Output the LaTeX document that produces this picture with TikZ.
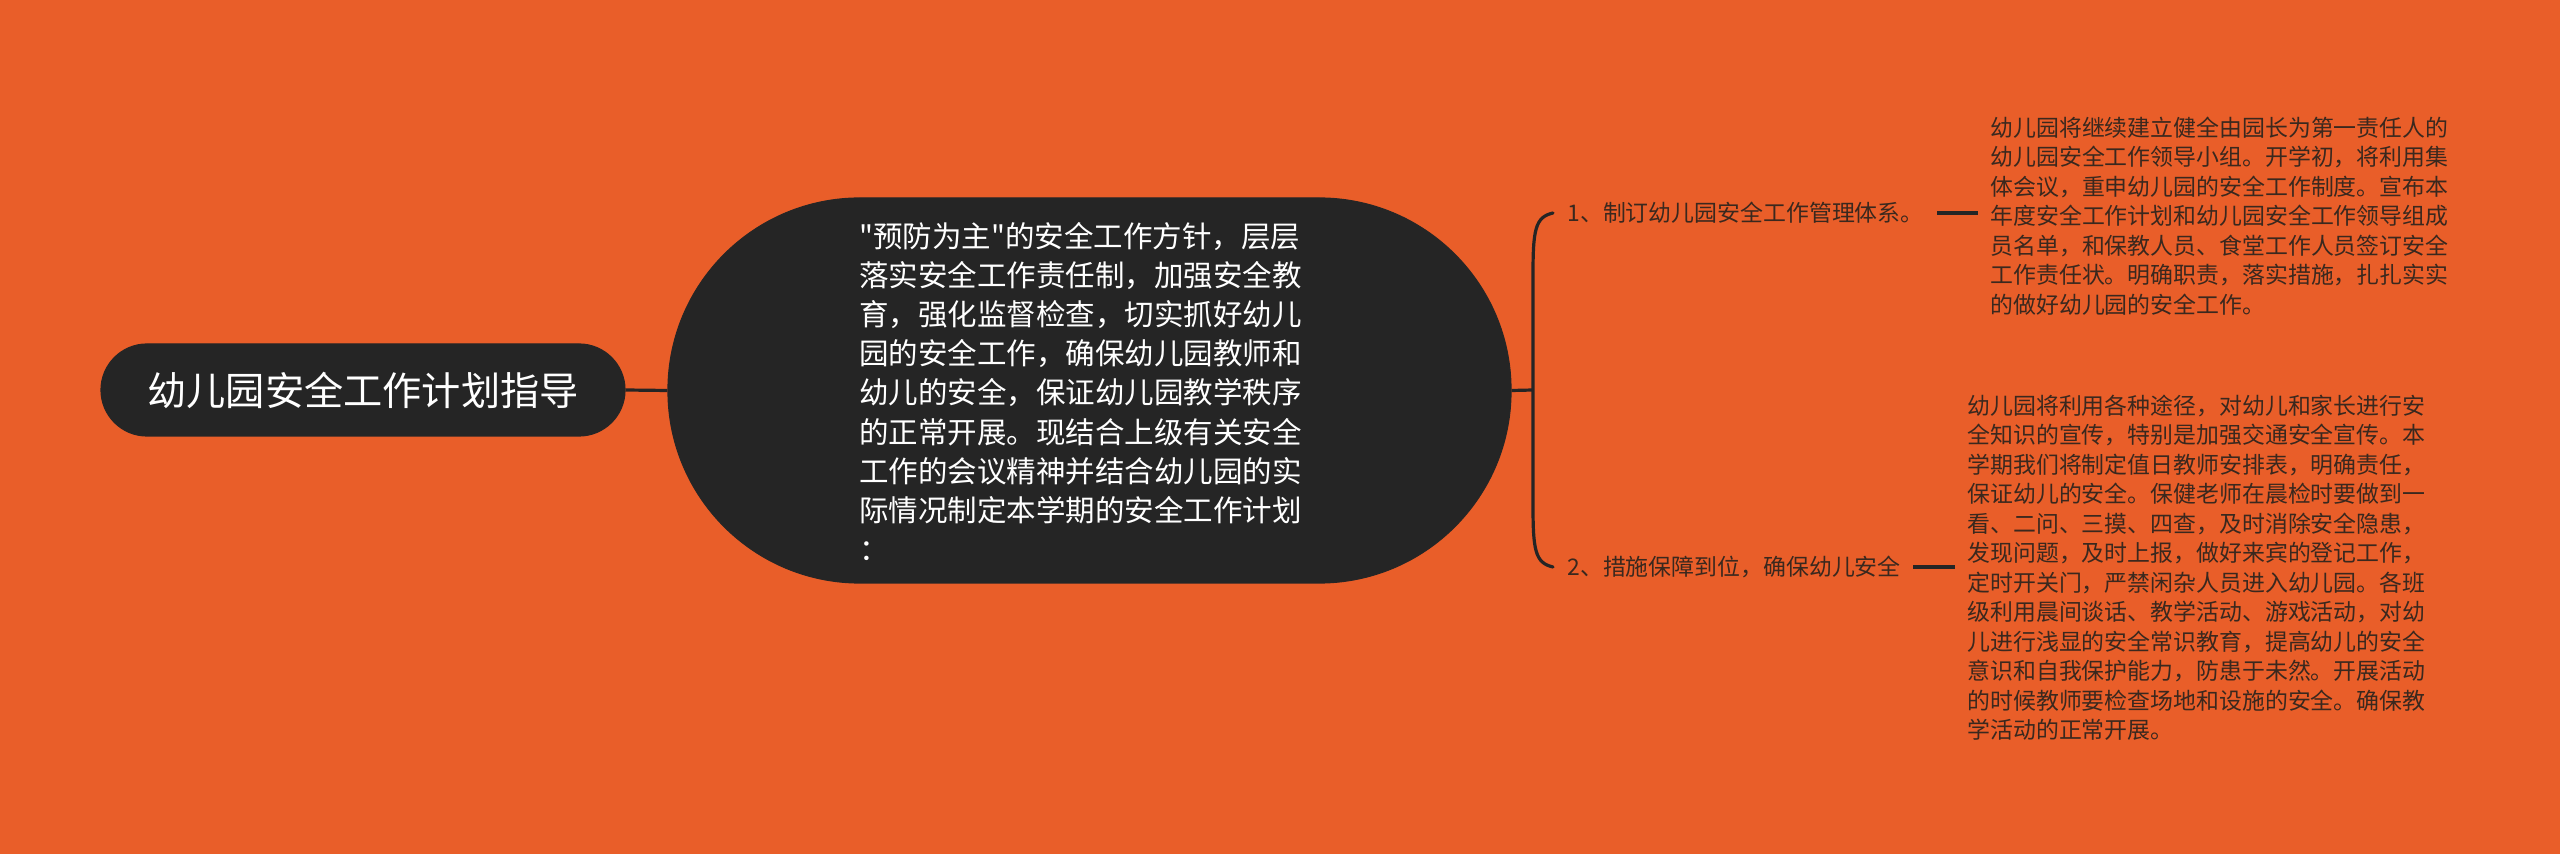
\documentclass[tikz,border=0pt]{standalone}
\usepackage{fontspec}
\newfontfamily\cjk{Noto Sans CJK SC}
\definecolor{bg}{RGB}{233,94,41}
\definecolor{dk}{RGB}{37,37,37}
\definecolor{tx}{RGB}{58,40,30}
\begin{document}
\begin{tikzpicture}[x=0.5pt,y=-0.5pt,
  darkbox/.style={fill=dk, draw=black!85, line width=0.6pt},
  link/.style={draw=dk, line width=1.6pt},
  stub/.style={draw=dk, line width=2pt},
  rootfont/.style={text=white, font=\cjk\fontsize{19.6}{24}\selectfont},
  midfont/.style={text=white, font=\cjk\fontsize{14.75}{19.6}\selectfont, align=left, inner sep=0pt},
  labelfont/.style={text=tx, font=\cjk\fontsize{11.45}{14}\selectfont, inner sep=0pt},
  detailfont/.style={text=tx, font=\cjk\fontsize{11.45}{14.75}\selectfont, align=left, inner sep=0pt}]
\fill[bg] (0,0) rectangle (2560,854);
\useasboundingbox (0,0) rectangle (2560,854);

% root
\node[darkbox, rootfont, rounded corners=23pt, minimum width=262pt, minimum height=46pt] (root) at (363,390) {幼儿园安全工作计划指导};

% middle
\node[darkbox, rounded corners=96pt, minimum width=421.5pt, minimum height=192.5pt] (mid) at (1089.5,390.5) {};
\node[midfont, anchor=west] (midt) at (859,391.5) {"预防为主"的安全工作方针，层层\\落实安全工作责任制，加强安全教\\育，强化监督检查，切实抓好幼儿\\园的安全工作，确保幼儿园教师和\\幼儿的安全，保证幼儿园教学秩序\\的正常开展。现结合上级有关安全\\工作的会议精神并结合幼儿园的实\\际情况制定本学期的安全工作计划\\：};

\draw[link] (root.east) -- (mid.west);

% branch labels
\node[labelfont, anchor=west] (l1) at (1567,213) {1、制订幼儿园安全工作管理体系。};
\node[labelfont, anchor=west] (l2) at (1567,567) {2、措施保障到位，确保幼儿安全};

% bracket
\coordinate (bj) at (1533,390);
\coordinate (b1) at ([xshift=-7pt]l1.west);
\coordinate (b2) at ([xshift=-7pt]l2.west);
\draw[link] (mid.east) -- (bj);
\draw[link, line cap=round] (b1) .. controls +(-18,4) and +(0,-45) .. ([yshift=57.5pt]bj) -- ([yshift=-57.5pt]bj) .. controls +(0,45) and +(-18,-4) .. (b2);

% details
\node[detailfont, anchor=west] (d1) at (1990,216) {幼儿园将继续建立健全由园长为第一责任人的\\幼儿园安全工作领导小组。开学初，将利用集\\体会议，重申幼儿园的安全工作制度。宣布本\\年度安全工作计划和幼儿园安全工作领导组成\\员名单，和保教人员、食堂工作人员签订安全\\工作责任状。明确职责，落实措施，扎扎实实\\的做好幼儿园的安全工作。};
\node[detailfont, anchor=west] (d2) at (1967,567.5) {幼儿园将利用各种途径，对幼儿和家长进行安\\全知识的宣传，特别是加强交通安全宣传。本\\学期我们将制定值日教师安排表，明确责任，\\保证幼儿的安全。保健老师在晨检时要做到一\\看、二问、三摸、四查，及时消除安全隐患，\\发现问题，及时上报，做好来宾的登记工作，\\定时开关门，严禁闲杂人员进入幼儿园。各班\\级利用晨间谈话、教学活动、游戏活动，对幼\\儿进行浅显的安全常识教育，提高幼儿的安全\\意识和自我保护能力，防患于未然。开展活动\\的时候教师要检查场地和设施的安全。确保教\\学活动的正常开展。};

\draw[stub] ([xshift=-26.5pt]l1.east -| d1.west) -- ([xshift=-6pt]l1.east -| d1.west);
\draw[stub] ([xshift=-27pt]l2.east -| d2.west) -- ([xshift=-6pt]l2.east -| d2.west);
\end{tikzpicture}
\end{document}
